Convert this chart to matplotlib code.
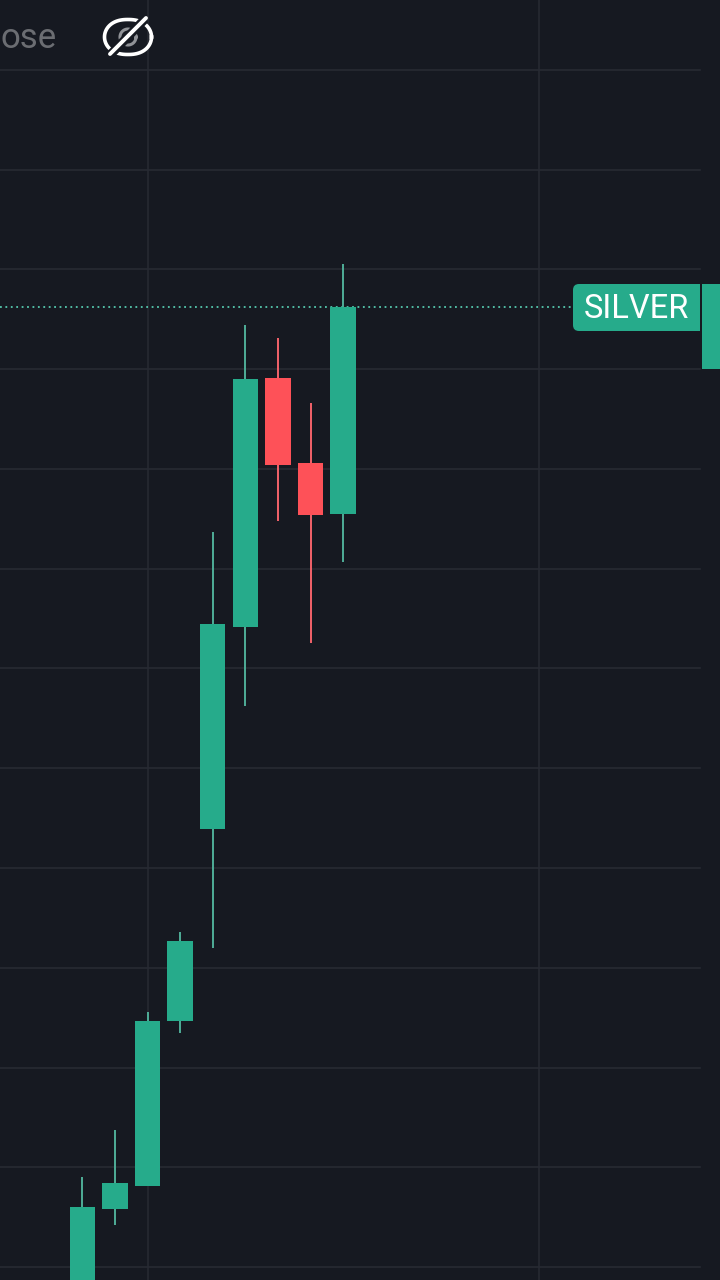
import numpy as np
import matplotlib.pyplot as plt
from matplotlib.patches import FancyBboxPatch, Rectangle

opens = [38.35, 42.91, 44.06, 52.33, 61.96, 72.08, 84.56, 80.30, 77.74]
highs = [44.51, 46.87, 52.78, 56.79, 76.84, 87.22, 86.57, 83.31, 90.28]
lows = [38.35, 42.11, 44.06, 51.73, 55.99, 68.12, 77.39, 71.28, 75.34]
closes = [43.01, 44.21, 52.33, 56.34, 72.23, 84.51, 80.20, 77.69, 88.12]
grid_prices = [100, 95, 90, 85, 80, 75, 70, 65, 60, 55, 50, 45, 40]
grid_candles = [2.0, 14.01]
last_price = 88.12
label = 'SILVER'

bg = '#161921'
grid_col = '#272a33'
green = '#26ab8b'
red = '#fe5158'
green_wick = '#4fae98'
red_wick = '#f4636a'

plt.rcParams['font.family'] = ['Roboto', 'DejaVu Sans']

fig = plt.figure(figsize=(7.2, 12.8), dpi=100, facecolor=bg)
ax = fig.add_axes([0, 0, 1, 1], facecolor=bg)
ax.set_xlim(-82.3 / 32.6, (720 - 82.3) / 32.6)
ax.set_ylim(100 - (1280 - 70) / 19.95, 100 + 70 / 19.95)
ax.axis('off')

index = np.arange(len(opens))

for p in grid_prices:
    ax.axhline(p, xmin=0, xmax=700 / 720, color=grid_col, lw=1.2, zorder=1)
for c in grid_candles:
    ax.axvline(c, color=grid_col, lw=1.1, zorder=1)

ax.axhline(last_price, xmin=0, xmax=573 / 720, color='#55c9ae', lw=1.3,
           ls=(0, (1, 2)), zorder=2)

for i in index:
    up = closes[i] >= opens[i]
    ax.vlines(i, lows[i], highs[i], color=green_wick if up else red_wick, lw=1.4, zorder=3)
    ax.bar(i, abs(closes[i] - opens[i]), bottom=min(opens[i], closes[i]),
           width=0.78, color=green if up else red, zorder=4)

# overlay in pixels for the label box and the icon
ov = fig.add_axes([0, 0, 1, 1], facecolor='none')
ov.set_xlim(0, 720)
ov.set_ylim(1280, 0)
ov.axis('off')

ov.add_patch(FancyBboxPatch((573, 284), 127, 47, boxstyle='round,pad=0,rounding_size=6',
                            fc=green, ec='none'))
ov.add_patch(Rectangle((692, 284), 8, 47, fc=green, ec='none'))
ov.add_patch(Rectangle((702, 284), 18, 85, fc=green, ec='none'))
ov.text(636.5, 309, label, color='white', fontsize=23.5, ha='center', va='center')

ov.text(0.5, 38, 'ose', color='#6b6d72', fontsize=25, ha='left', va='center')

# eye with a slash through it
t = np.linspace(0, 2 * np.pi, 100)
ov.plot(128 + 23.5 * np.sign(np.cos(t)) * np.abs(np.cos(t)) ** 0.85,
        37 + 17.5 * np.sin(t), color='white', lw=2.6)
ov.plot(128 + 8 * np.cos(t), 37 + 8 * np.sin(t), color='#909297', lw=2.2)
ov.plot([111, 145], [54, 19], color=bg, lw=6.5, solid_capstyle='butt')
ov.plot([110, 146], [54, 18], color='white', lw=2.8, solid_capstyle='round')

fig.savefig('out.png', dpi=100, facecolor=bg)
